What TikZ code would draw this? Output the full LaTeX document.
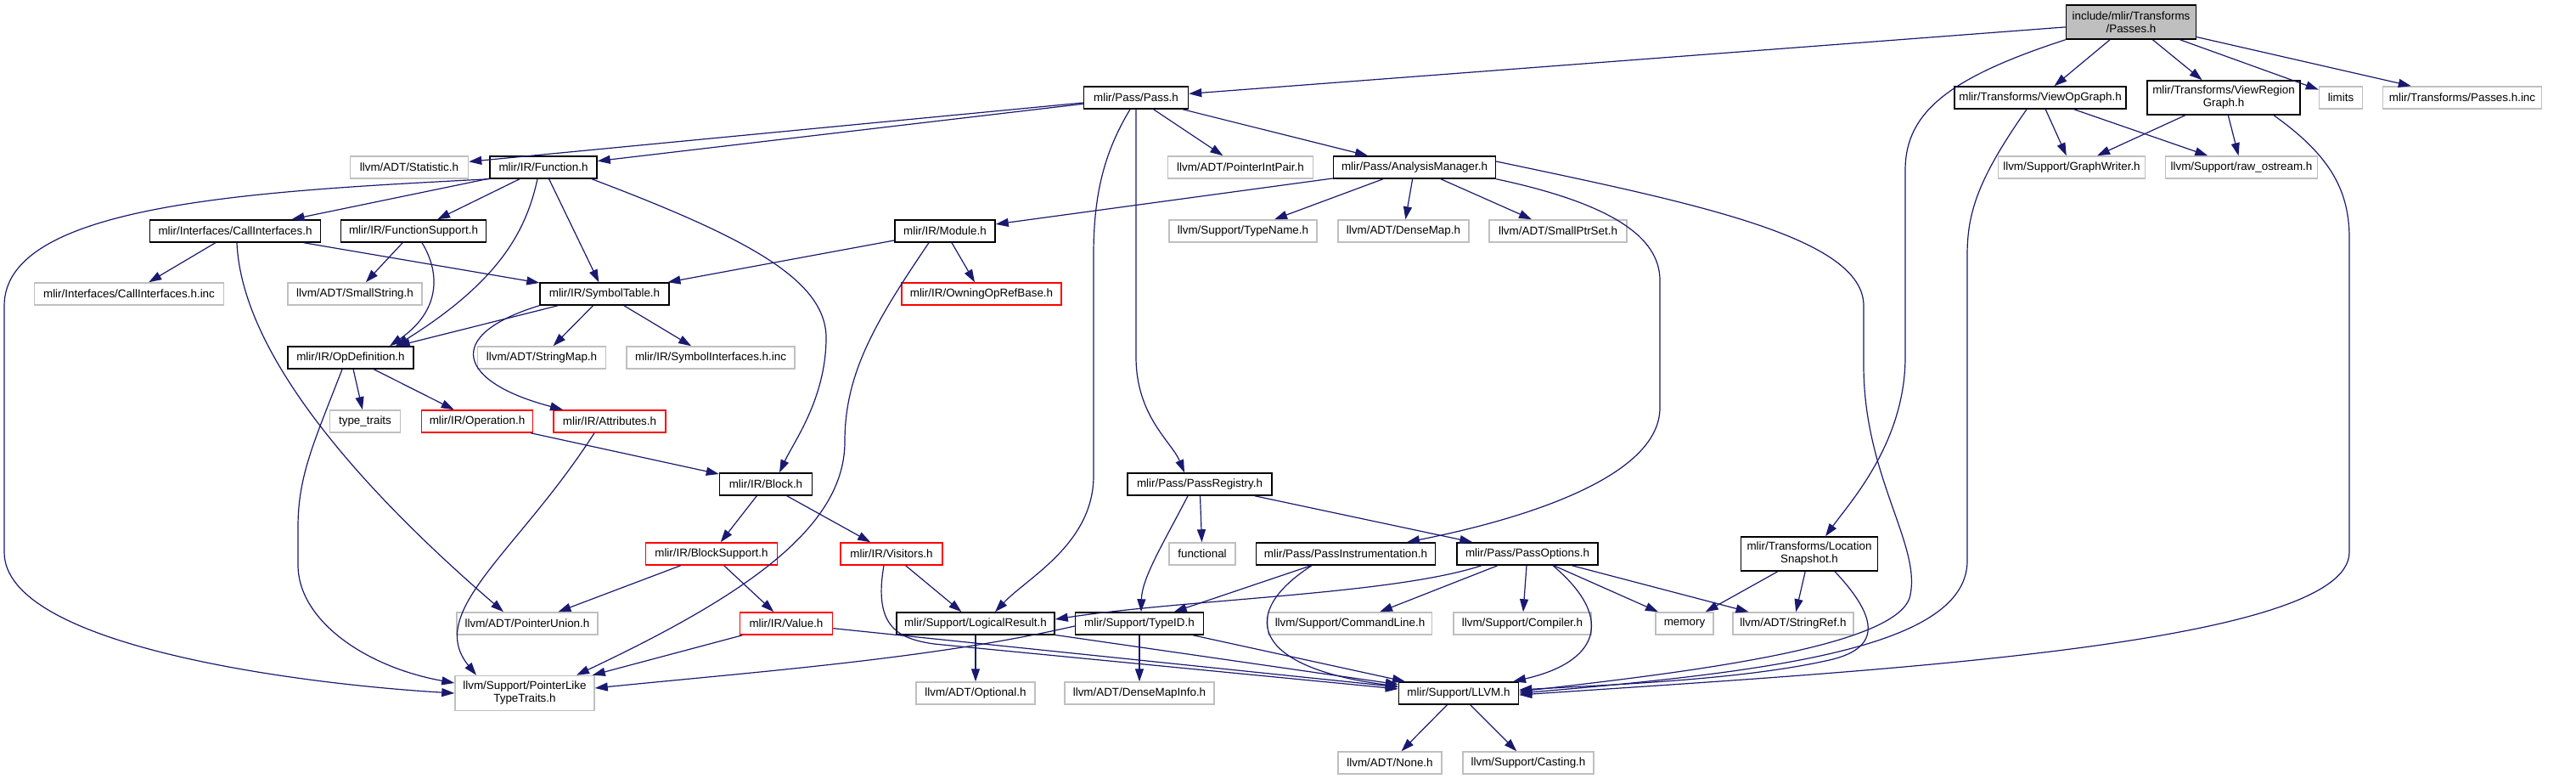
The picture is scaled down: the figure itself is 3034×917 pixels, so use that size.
\documentclass[tikz,border=0pt]{standalone}
\usepackage{fontspec}
\setmainfont{Liberation Sans}
\usetikzlibrary{arrows.meta}
\definecolor{edgecol}{HTML}{191970}
\definecolor{graybd}{HTML}{BFBFBF}
\definecolor{fillgr}{HTML}{BFBFBF}
\begin{document}
\begin{tikzpicture}[x=1pt,y=-1pt,
  base/.style={line width=1.5pt, minimum height=26pt, inner sep=0pt, anchor=center,
     font=\fontsize{13.4}{15}\selectfont, align=center, fill=white},
  bk/.style={base, draw=black},
  gy/.style={base, draw=graybd},
  rd/.style={base, draw=red},
  two/.style={minimum height=40pt},
  edge/.style={draw=edgecol, line width=1.2pt, -{Triangle[length=15pt,width=10pt]}}]
\useasboundingbox (0,0) rectangle (3034,917);
\fill[white] (0,0) rectangle (3034,917);
% nodes
\node[bk,two,fill=fillgr,minimum width=153pt] (passes) at (2510,26) {include/mlir/Transforms\\/Passes.h};
\node[bk,minimum width=123pt] (pass) at (1338,115) {mlir/Pass/Pass.h};
\node[bk,minimum width=202pt] (viewop) at (2403,115) {mlir/Transforms/ViewOpGraph.h};
\node[bk,two,minimum width=180pt] (viewreg) at (2619,115) {mlir/Transforms/ViewRegion\\Graph.h};
\node[gy,minimum width=51pt] (limits) at (2757,115) {limits};
\node[gy,minimum width=187pt] (passesinc) at (2900,115) {mlir/Transforms/Passes.h.inc};
\node[gy,minimum width=139pt] (statistic) at (482,197) {llvm/ADT/Statistic.h};
\node[bk,minimum width=126pt] (function) at (640,197) {mlir/IR/Function.h};
\node[gy,minimum width=171pt] (pointerintpair) at (1461,197) {llvm/ADT/PointerIntPair.h};
\node[bk,minimum width=191pt] (analysis) at (1666,197) {mlir/Pass/AnalysisManager.h};
\node[gy,minimum width=173pt] (graphwriter) at (2440,197) {llvm/Support/GraphWriter.h};
\node[gy,minimum width=179pt] (rawostream) at (2640,197) {llvm/Support/raw\_ostream.h};
\node[bk,minimum width=201pt] (callif) at (277,272) {mlir/Interfaces/CallInterfaces.h};
\node[bk,minimum width=171pt] (funcsupport) at (487,272) {mlir/IR/FunctionSupport.h};
\node[bk,minimum width=118pt] (module) at (1113,272) {mlir/IR/Module.h};
\node[gy,minimum width=174pt] (typename) at (1464,272) {llvm/Support/TypeName.h};
\node[gy,minimum width=154pt] (densemap) at (1653,272) {llvm/ADT/DenseMap.h};
\node[gy,minimum width=162pt] (smallptrset) at (1835,272) {llvm/ADT/SmallPtrSet.h};
\node[gy,minimum width=223pt] (callifinc) at (152,346) {mlir/Interfaces/CallInterfaces.h.inc};
\node[gy,minimum width=158pt] (smallstring) at (418,346) {llvm/ADT/SmallString.h};
\node[bk,minimum width=152pt] (symtable) at (712,346) {mlir/IR/SymbolTable.h};
\node[rd,minimum width=188pt] (owning) at (1156,346) {mlir/IR/OwningOpRefBase.h};
\node[bk,minimum width=148pt] (opdef) at (413,421) {mlir/IR/OpDefinition.h};
\node[gy,minimum width=151pt] (stringmap) at (638,421) {llvm/ADT/StringMap.h};
\node[gy,minimum width=198pt] (syminc) at (837,421) {mlir/IR/SymbolInterfaces.h.inc};
\node[gy,minimum width=83pt] (typetraits) at (430,496) {type\_traits};
\node[rd,minimum width=131pt] (operation) at (562,496) {mlir/IR/Operation.h};
\node[rd,minimum width=132pt] (attributes) at (718,496) {mlir/IR/Attributes.h};
\node[bk,minimum width=109pt] (block) at (902,570) {mlir/IR/Block.h};
\node[bk,minimum width=170pt] (passregistry) at (1413,570) {mlir/Pass/PassRegistry.h};
\node[rd,minimum width=155pt] (blocksupport) at (838,652) {mlir/IR/BlockSupport.h};
\node[rd,minimum width=120pt] (visitors) at (1050,652) {mlir/IR/Visitors.h};
\node[gy,minimum width=78pt] (functional) at (1416,652) {functional};
\node[bk,minimum width=211pt] (passinstr) at (1585,652) {mlir/Pass/PassInstrumentation.h};
\node[bk,minimum width=166pt] (passoptions) at (1799,652) {mlir/Pass/PassOptions.h};
\node[bk,two,minimum width=161pt] (locsnap) at (2131,652) {mlir/Transforms/Location\\Snapshot.h};
\node[gy,minimum width=166pt] (pointerunion) at (621,734) {llvm/ADT/PointerUnion.h};
\node[rd,minimum width=109pt] (value) at (926,734) {mlir/IR/Value.h};
\node[bk,minimum width=186pt] (logicalresult) at (1149,734) {mlir/Support/LogicalResult.h};
\node[bk,minimum width=151pt] (typeid) at (1342,734) {mlir/Support/TypeID.h};
\node[gy,minimum width=193pt] (commandline) at (1590,734) {llvm/Support/CommandLine.h};
\node[gy,minimum width=162pt] (compiler) at (1793,734) {llvm/Support/Compiler.h};
\node[gy,minimum width=68pt] (memory) at (1984,734) {memory};
\node[gy,minimum width=142pt] (stringref) at (2112,734) {llvm/ADT/StringRef.h};
\node[gy,two,minimum width=164pt,minimum height=41pt] (pointerlike) at (618,816) {llvm/Support/PointerLike\\TypeTraits.h};
\node[gy,minimum width=140pt] (optional) at (1149,816) {llvm/ADT/Optional.h};
\node[gy,minimum width=176pt] (densemapinfo) at (1342,816) {llvm/ADT/DenseMapInfo.h};
\node[bk,minimum width=141pt] (llvm) at (1718,816) {mlir/Support/LLVM.h};
\node[gy,minimum width=122pt] (none) at (1637,898) {llvm/ADT/None.h};
\node[gy,minimum width=154pt] (casting) at (1800,898) {llvm/Support/Casting.h};
% straight edges
\foreach \a/\b in {passes/pass, passes/viewop, passes/viewreg, passes/limits, passes/passesinc,
  pass/statistic, pass/function, pass/pointerintpair, pass/analysis,
  function/callif, function/funcsupport, function/symtable,
  callif/callifinc, callif/symtable, funcsupport/smallstring,
  symtable/opdef, symtable/stringmap, symtable/syminc,
  opdef/typetraits, opdef/operation, operation/block,
  block/blocksupport, block/visitors, blocksupport/pointerunion, blocksupport/value,
  value/pointerlike, value/llvm, visitors/logicalresult,
  module/symtable, module/owning,
  analysis/module, analysis/typename, analysis/densemap, analysis/smallptrset,
  viewop/graphwriter, viewop/rawostream, viewreg/graphwriter, viewreg/rawostream,
  passregistry/functional, passregistry/passoptions, passinstr/typeid,
  passoptions/commandline, passoptions/compiler, passoptions/memory, passoptions/stringref,
  locsnap/memory, locsnap/stringref,
  logicalresult/optional, logicalresult/llvm, typeid/densemapinfo, typeid/llvm,
  llvm/none, llvm/casting}
  \draw[edge] (\a) -- (\b);
% curved edges
\draw[edge] (passes.south west) .. controls (2300,90) and (2244,130) .. (2244,200) -- (2244,420) .. controls (2244,520) and (2180,590) .. ([xshift=19pt]locsnap.north);
\draw[edge] (pass.south) -- (1338,420) .. controls (1338,490) and (1380,520) .. ([xshift=-18pt]passregistry.north);
\draw[edge] ([xshift=-7pt]pass.south) .. controls (1300,180) and (1288,230) .. (1288,300) -- (1288,560) .. controls (1288,640) and (1210,680) .. ([xshift=23pt]logicalresult.north);
\draw[edge] ([xshift=-7pt]function.south) .. controls (620,270) and (590,330) .. ([xshift=53pt]opdef.north);
\draw[edge] ([xshift=10pt]funcsupport.south) .. controls (518,320) and (520,365) .. ([xshift=46pt]opdef.north);
\draw[edge] ([xshift=57pt]function.south) .. controls (880,280) and (975,330) .. (973,400) .. controls (972,470) and (935,520) .. ([xshift=16pt]block.north);
\draw[edge] (function.south west) .. controls (300,225) and (5,240) .. (5,360) -- (5,650) .. controls (5,760) and (350,805) .. (pointerlike.west);
\draw[edge] ([xshift=2pt]callif.south) .. controls (285,420) and (430,580) .. ([xshift=-28pt]pointerunion.north);
\draw[edge] (symtable.south west) .. controls (520,395) and (540,450) .. ([xshift=-55pt]attributes.north);
\draw[edge] ([xshift=-10pt]opdef.south) .. controls (370,520) and (351,560) .. (351,620) -- (351,665) .. controls (351,730) and (430,785) .. ([yshift=12pt]pointerlike.west);
\draw[edge] ([xshift=-18pt]attributes.south) .. controls (610,650) and (500,720) .. ([xshift=-57pt]pointerlike.north);
\draw[edge] ([xshift=-9pt]visitors.south) .. controls (1028,740) and (1060,752) .. (1100,758) -- ([yshift=5pt]llvm.west);
\draw[edge] ([xshift=-19pt]module.south) .. controls (1030,380) and (995,440) .. (995,520) .. controls (995,620) and (880,700) .. ([xshift=61pt]pointerlike.north);
\draw[edge] (analysis.south east) .. controls (1900,240) and (1955,280) .. (1955,330) -- (1955,480) .. controls (1955,560) and (1800,610) .. ([xshift=72pt]passinstr.north);
\draw[edge] ([yshift=7pt]analysis.east) .. controls (2000,240) and (2195,280) .. (2195,360) -- (2195,430) .. controls (2195,560) and (2262,640) .. (2250,700) .. controls (2240,760) and (2000,790) .. ([yshift=2pt]llvm.east);
\draw[edge] ([xshift=-16pt]viewop.south) .. controls (2330,210) and (2317,250) .. (2317,300) -- (2317,660) .. controls (2317,760) and (2100,790) .. (llvm.east);
\draw[edge] ([xshift=59pt]viewreg.south) .. controls (2740,180) and (2767,220) .. (2767,280) -- (2767,650) .. controls (2767,760) and (2200,790) .. ([yshift=-2pt]llvm.east);
\draw[edge] ([xshift=30pt]locsnap.south) .. controls (2215,730) and (2215,765) .. (2150,778) .. controls (2050,800) and (1900,806) .. ([yshift=4pt]llvm.east);
\draw[edge] ([xshift=-14pt]passregistry.south) .. controls (1370,640) and (1345,680) .. ([xshift=2pt]typeid.north);
\draw[edge] ([xshift=-40pt]passinstr.south) .. controls (1460,720) and (1470,785) .. ([yshift=8pt]llvm.west);
\draw[edge] ([xshift=-54pt]passoptions.south) .. controls (1640,700) and (1400,705) .. ([yshift=5pt]logicalresult.east);
\draw[edge] ([xshift=30pt]passoptions.south) .. controls (1905,730) and (1880,780) .. ([xshift=64pt]llvm.north);
\draw[edge] ([yshift=-3pt]typeid.west) .. controls (1100,775) and (900,790) .. ([yshift=6pt]pointerlike.east);
\end{tikzpicture}
\end{document}
